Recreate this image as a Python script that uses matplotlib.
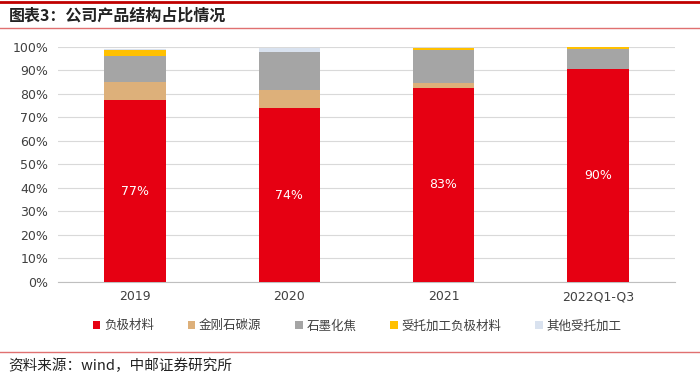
import matplotlib.pyplot as plt
import numpy as np

plt.rcParams['font.family'] = ['Noto Sans CJK SC', 'DejaVu Sans']

years = ['2019', '2020', '2021', '2022Q1-Q3']
series = ['负极材料', '金刚石碳源', '石墨化焦', '受托加工负极材料', '其他受托加工']
anode = [77.3, 73.8, 82.6, 90.5]
diamond = [7.7, 7.8, 1.9, 0.0]
graphite_coke = [11.0, 16.3, 14.0, 8.5]
processing = [2.8, 0.0, 0.9, 1.0]
other = [0.4, 1.7, 0.0, 0.0]
labels = ['77%', '74%', '83%', '90%']

colors = ['#E60012', '#DDB07A', '#A5A5A5', '#FFC000', '#D9E2EF']

fig = plt.figure(figsize=(7, 3.83), dpi=100)
ax = fig.add_axes([0.083, 0.2637, 0.881, 0.6143])

x = np.arange(len(years))
bottom = np.zeros(len(years))
for name, vals, c in zip(series, [anode, diamond, graphite_coke, processing, other], colors):
    ax.bar(x, vals, width=0.4, bottom=bottom, color=c, label=name, zorder=3)
    bottom += np.array(vals)

for xi, v, t in zip(x, anode, labels):
    ax.text(xi, v / 2, t, ha='center', va='center', color='white', fontsize=9,
            family=['Liberation Sans Narrow', 'DejaVu Sans'])

ax.set_xlim(-0.5, 3.5)
ax.set_ylim(0, 100)
ax.set_yticks(range(0, 101, 10))
ax.set_yticklabels([f'{v}%' for v in range(0, 101, 10)], fontsize=9, color='#404040',
                   family=['DejaVu Sans'])
ax.set_xticks(x)
ax.set_xticklabels(years, fontsize=9, color='#404040', family=['DejaVu Sans'])
ax.grid(axis='y', color='#D9D9D9', linewidth=0.8, zorder=0)
for s in ['top', 'right', 'left']:
    ax.spines[s].set_visible(False)
ax.spines['bottom'].set_color('#BFBFBF')
ax.tick_params(axis='y', length=0, pad=7)
ax.tick_params(axis='x', length=0, pad=6)

fig.legend(loc='center', bbox_to_anchor=(0.51, 0.149), ncol=5, frameon=False,
           fontsize=9, handlelength=0.6, handleheight=0.6, handletextpad=0.3,
           columnspacing=2.7, labelcolor='#404040')

# 标题和来源
fig.text(0.012, 0.96, '图表3：公司产品结构占比情况', fontsize=11.5, fontweight='bold',
         ha='left', va='center', color='#222222')
fig.add_artist(plt.Line2D([0, 1], [0.995, 0.995], color='#C00000', linewidth=2))
fig.add_artist(plt.Line2D([0, 1], [0.928, 0.928], color='#E07070', linewidth=1))
fig.add_artist(plt.Line2D([0, 1], [0.081, 0.081], color='#E07070', linewidth=1))
fig.text(0.012, 0.045, '资料来源：wind，中邮证券研究所', fontsize=10.5, ha='left', va='center',
         color='#222222')

fig.savefig('out.png', dpi=100)
